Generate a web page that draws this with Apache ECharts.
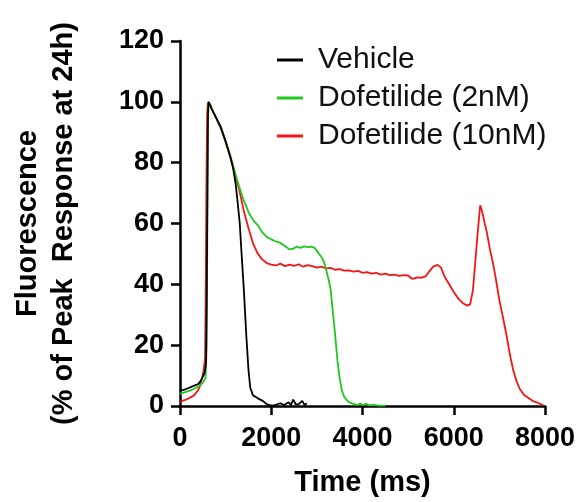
<!DOCTYPE html>
<html><head><meta charset="utf-8">
<script src="https://cdn.jsdelivr.net/npm/echarts@6/dist/echarts.min.js"></script>
<style>html,body{margin:0;padding:0;background:#fff}#c{width:582px;height:502px}</style>
</head><body><div id="c"></div>
<script>
const seriesNames = ['Vehicle', 'Dofetilide (2nM)', 'Dofetilide (10nM)'];
const xTicks = [0, 2000, 4000, 6000, 8000];
const yTicks = [0, 20, 40, 60, 80, 100, 120];

const vehicleData = [[0,5.0],[100,5.4],[200,6.0],[300,6.6],[400,7.2],[450,8.2],[500,9.6],[540,11],[570,14],[585,35],[600,70],[612,95],[625,100],[660,99],[700,97.5],[800,94.5],[900,91.5],[1000,87],[1100,82],[1160,78.5],[1220,73],[1270,66],[1310,60],[1350,50],[1400,38],[1450,24],[1500,12],[1540,6],[1600,3.5],[1700,2.6],[1820,1.6],[1900,0.6],[1970,0.3],[2050,0.1],[2100,0.4],[2200,0.9],[2280,0.3],[2380,1.2],[2430,0.3],[2480,2.1],[2540,0.5],[2600,0.6],[2680,1.7],[2730,0.3],[2780,0.9]];

const dof2Data = [[0,4.0],[100,4.5],[200,5.0],[300,5.6],[400,6.3],[440,6.7],[500,7.6],[560,9.2],[585,20],[600,60],[612,92],[625,100],[660,99],[700,97.5],[800,94.5],[900,91.5],[1000,87],[1100,82.5],[1200,77],[1300,72],[1400,67.5],[1500,63.8],[1600,61.2],[1700,59.5],[1800,57.2],[1900,55.6],[2000,54.8],[2100,54.1],[2200,53.6],[2300,52.6],[2400,51.5],[2480,51.7],[2560,52.4],[2640,52.0],[2720,52.5],[2800,52.2],[2880,52.4],[2950,52.0],[3000,51.0],[3050,50.0],[3100,49.0],[3150,47.5],[3200,45.0],[3250,42.0],[3300,38.5],[3350,31.0],[3400,23.5],[3450,15.0],[3500,9.0],[3550,5.0],[3600,3.0],[3650,2.0],[3700,1.3],[3800,0.7],[3900,0.3],[3950,0.8],[4000,0.3],[4080,0.7],[4150,0.2],[4250,0.4],[4350,0.1],[4500,0.1]];

const dof10Data = [[0,1.4],[100,1.9],[200,2.6],[300,3.4],[400,5.2],[440,6.7],[480,9.0],[520,12],[550,16],[565,40],[580,75],[595,96],[610,99.5],[660,98.8],[700,97.5],[800,94.5],[900,91],[1000,86.8],[1100,82],[1200,76.5],[1300,71],[1400,64],[1500,58.5],[1600,53.5],[1700,50.2],[1800,48.2],[1900,47.0],[2000,46.5],[2100,46.2],[2200,46.8],[2300,46.0],[2400,46.5],[2500,46.1],[2600,46.6],[2700,45.8],[2800,46.3],[2900,46.0],[3000,45.5],[3100,45.8],[3200,45.2],[3300,45.4],[3400,44.8],[3500,45.0],[3600,44.5],[3700,44.6],[3800,44.2],[3900,44.4],[4000,43.8],[4100,44.0],[4200,43.5],[4300,43.8],[4400,43.2],[4500,43.5],[4600,43.0],[4700,43.2],[4800,42.8],[4900,43.0],[5000,42.9],[5050,42.2],[5100,41.8],[5200,42.3],[5300,42.2],[5380,42.6],[5450,44.0],[5550,45.8],[5650,46.4],[5720,45.5],[5800,42.5],[5900,40.0],[6000,37.5],[6100,35.3],[6200,33.8],[6300,33.0],[6360,33.5],[6420,38],[6470,47],[6530,58],[6580,66],[6620,64],[6680,60],[6720,57.5],[6800,51],[6860,47],[6920,42],[7010,34],[7080,29],[7160,23],[7230,17],[7300,12],[7380,8],[7450,5.5],[7550,3.5],[7670,2.3],[7750,1.5],[7850,1.0],[7960,0.3]];

const colors = ['#000000', '#1fc81f', '#f51515'];
const FONT = "'Liberation Sans', Arial, sans-serif";

const chart = echarts.init(document.getElementById('c'), null, {renderer: 'canvas'});
chart.setOption({
  animation: false,
  backgroundColor: '#fff',
  grid: {left: 180, right: 37, top: 41, bottom: 95, containLabel: false},
  legend: {
    data: seriesNames,
    orient: 'vertical',
    left: 272, top: 40,
    itemWidth: 26, itemHeight: 3, itemGap: 8,
    icon: 'rect',
    textStyle: {fontFamily: FONT, fontSize: 30, color: '#111', lineHeight: 30, padding: [0,0,0,10]}
  },
  xAxis: {
    type: 'value', min: xTicks[0], max: xTicks[xTicks.length-1], interval: 2000,
    name: 'Time (ms)', nameLocation: 'middle', nameGap: 62,
    nameTextStyle: {fontFamily: FONT, fontSize: 29, fontWeight: 'bold', color: '#000'},
    axisLine: {lineStyle: {color: '#000', width: 2.5}},
    axisTick: {length: 9, lineStyle: {color: '#000', width: 2.5}},
    axisLabel: {fontFamily: FONT, fontSize: 27, fontWeight: 'bold', color: '#000', margin: 19, formatter: v => String(v)},
    splitLine: {show: false}
  },
  yAxis: {
    type: 'value', min: yTicks[0], max: yTicks[yTicks.length-1], interval: 20,
    name: 'Fluorescence\n(% of Peak  Response at 24h)', nameLocation: 'middle', nameGap: 98, nameRotate: 90,
    nameTextStyle: {fontFamily: FONT, fontSize: 29, fontWeight: 'bold', color: '#000', lineHeight: 36},
    axisLine: {lineStyle: {color: '#000', width: 2.5}},
    axisTick: {length: 9, lineStyle: {color: '#000', width: 2.5}},
    axisLabel: {fontFamily: FONT, fontSize: 27, fontWeight: 'bold', color: '#000', margin: 16, formatter: v => String(v)},
    splitLine: {show: false}
  },
  series: [
    {name: seriesNames[2], type: 'line', data: dof10Data, symbol: 'none', color: colors[2], lineStyle: {width: 1.8, color: colors[2]}, z: 2},
    {name: seriesNames[1], type: 'line', data: dof2Data, symbol: 'none', color: colors[1], lineStyle: {width: 1.8, color: colors[1]}, z: 3},
    {name: seriesNames[0], type: 'line', data: vehicleData, symbol: 'none', color: colors[0], lineStyle: {width: 1.8, color: colors[0]}, z: 4}
  ]
});
</script></body></html>
